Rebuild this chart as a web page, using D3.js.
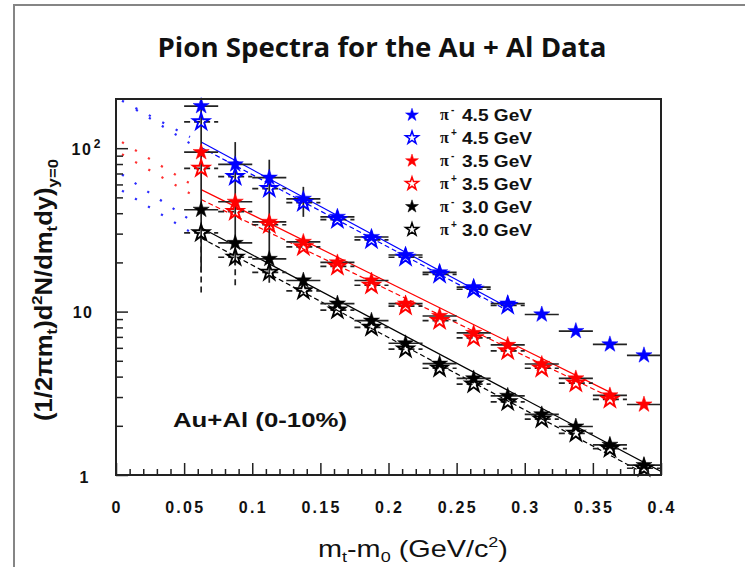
<!DOCTYPE html>
<html>
<head>
<meta charset="utf-8">
<script src="https://cdn.jsdelivr.net/npm/d3@7/dist/d3.min.js"></script>
<style>
  body { margin: 0; background: #fff; }
  svg { display: block; }
  text { font-family: "Liberation Sans", Arial, sans-serif; fill: #111; }
</style>
</head>
<body>
<svg width="745" height="567"></svg>
<script>
/*global d3*/
// bin centres in mt-m0 (GeV/c^2), bins are 0.025 wide
var xBins = [0.0625, 0.0875, 0.1125, 0.1375, 0.1625, 0.1875, 0.2125, 0.2375, 0.2625, 0.2875, 0.3125, 0.3375, 0.3625, 0.3875];
var xHalfBin = 0.0125;

var piMinus45 = [181, 79.6, 66, 49, 38, 28.6, 22.2, 17.4, 14.1, 11.2, 9.6, 7.6, 6.3, 5.4];
var piPlus45 = [145, 67, 56.6, 46.4, 36.5, 27.5, 21.5, 16.9, 13.7, 10.9];
var piMinus35 = [94.5, 47, 35.4, 26.7, 20, 15.5, 11.2, 9.4, 7.4, 6.25, 4.78, 3.9, 3.07, 2.7];
var piPlus35 = [75.2, 40.9, 34, 24.9, 18.9, 14.5, 10.8, 8.8, 6.9, 5.75, 4.5, 3.65, 2.9];
var piMinus30 = [42, 26.3, 21, 15.5, 11.2, 8.8, 6.4, 4.8, 3.9, 3.05, 2.35, 1.98, 1.53, 1.15];
var piPlus30 = [30.3, 21.5, 17.4, 13.4, 10.2, 8.0, 5.9, 4.5, 3.6, 2.8, 2.2, 1.8, 1.45, 1.1];

// the big vertical error bars: series, x, low, high
var vErrors = [
    ["piMinus30", 0.0625, 17.4, 195],
    ["piMinus30", 0.0875, 19.2, 109],
    ["piMinus30", 0.1125, 17, 85],
    ["piPlus30", 0.0625, 13.1, 30.3],
    ["piPlus30", 0.0875, 14.5, 21.5],
    ["piPlus30", 0.1125, 15, 17.4],
    ["piMinus45", 0.1375, 38, 58]
];

// exponential fits, [x, value] end points
var fitMinus45 = [[0.0625, 109], [0.285, 10.9]];
var fitPlus45 = [[0.0625, 101], [0.285, 10.4]];
var fitMinus35 = [[0.0625, 55.8], [0.368, 3.05]];
var fitPlus35 = [[0.0625, 48.5], [0.368, 2.85]];
var fitMinus30 = [[0.0625, 32.6], [0.4, 1.05]];
var fitPlus30 = [[0.0625, 28.2], [0.39, 1.0]];

// dotted extrapolations below the first bin
var extraBlueA = [[0.0044, 195], [0.0543, 117]];
var extraBlueB = [[0.0147, 172], [0.0543, 107]];
var extraRedA = [[0.0044, 109], [0.0543, 60.8]];
var extraRedB = [[0.0044, 91.8], [0.0543, 52.8]];
var extraBlueC = [[0.0044, 69], [0.0543, 36.5]];
var extraBlueD = [[0.0044, 55], [0.0543, 30.8]];

var legendCharge = ["-", "+", "-", "+", "-", "+"];
var legendEnergy = ["4.5 GeV", "4.5 GeV", "3.5 GeV", "3.5 GeV", "3.0 GeV", "3.0 GeV"];
var xTickLabels = ["0", "0.05", "0.1", "0.15", "0.2", "0.25", "0.3", "0.35", "0.4"];

var series = [
    {key: "piMinus45", values: piMinus45, fit: fitMinus45, color: "#0000ff", filled: true},
    {key: "piPlus45", values: piPlus45, fit: fitPlus45, color: "#0000ff", filled: false},
    {key: "piMinus35", values: piMinus35, fit: fitMinus35, color: "#ff0000", filled: true},
    {key: "piPlus35", values: piPlus35, fit: fitPlus35, color: "#ff0000", filled: false},
    {key: "piMinus30", values: piMinus30, fit: fitMinus30, color: "#000000", filled: true},
    {key: "piPlus30", values: piPlus30, fit: fitPlus30, color: "#000000", filled: false}
];
var extras = [
    {pts: extraBlueA, color: "#2a2aff"}, {pts: extraBlueB, color: "#2a2aff"},
    {pts: extraRedA, color: "#ff3030"}, {pts: extraRedB, color: "#ff3030"},
    {pts: extraBlueC, color: "#2a2aff"}, {pts: extraBlueD, color: "#2a2aff"}
];

var svg = d3.select("svg"),
    plotL = 116, plotR = 661, plotT = 99, plotB = 475;

var x = d3.scaleLinear().domain([0, 0.4]).range([plotL, plotR]),
    y = d3.scaleLog().domain([1, 200]).range([plotB, plotT]);

// slide border
svg.append("rect")
    .attr("x", 14).attr("y", 5)
    .attr("width", 800).attr("height", 700)
    .attr("fill", "none")
    .attr("stroke", "#858585")
    .attr("stroke-width", 2);

svg.append("text")
    .attr("x", 382).attr("y", 57)
    .attr("text-anchor", "middle")
    .attr("textLength", 449)
    .attr("lengthAdjust", "spacingAndGlyphs")
    .style("font-family", "'Open Sans', sans-serif")
    .style("font-weight", "700")
    .style("font-size", "26px")
    .text("Pion Spectra for the Au + Al Data");

svg.append("defs").append("clipPath").attr("id", "plotArea")
    .append("rect")
    .attr("x", plotL).attr("y", plotT)
    .attr("width", plotR - plotL).attr("height", plotB - plotT);

var plot = svg.append("g").attr("clip-path", "url(#plotArea)");

var line = d3.line()
    .x(function (d) { return x(d[0]); })
    .y(function (d) { return y(d[1]); });

// dotted extrapolations
plot.selectAll(".extra")
    .data(extras)
    .enter()
    .append("path")
    .attr("class", "extra")
    .attr("d", function (d) { return line(d.pts); })
    .attr("fill", "none")
    .attr("stroke", function (d) { return d.color; })
    .attr("stroke-width", 2.2)
    .attr("stroke-dasharray", "2.2,13");

// fit lines
plot.selectAll(".fit")
    .data(series)
    .enter()
    .append("path")
    .attr("class", "fit")
    .attr("d", function (d) { return line(d.fit); })
    .attr("fill", "none")
    .attr("stroke", function (d) { return d.color; })
    .attr("stroke-width", 1.2)
    .attr("stroke-dasharray", function (d) { return d.filled ? null : "5,3"; });

// all points flattened
var points = [];
series.forEach(function (s) {
    s.values.forEach(function (v, i) {
        points.push({x: xBins[i], v: v, s: s});
    });
});

// horizontal error bars (black, dashed for pi+)
plot.selectAll(".hbar")
    .data(points)
    .enter()
    .append("line")
    .attr("class", "hbar")
    .attr("x1", function (d) { return x(d.x - xHalfBin); })
    .attr("x2", function (d) { return x(d.x + xHalfBin); })
    .attr("y1", function (d) { return y(d.v); })
    .attr("y2", function (d) { return y(d.v); })
    .attr("stroke", "#222")
    .attr("stroke-width", 1.7)
    .attr("stroke-dasharray", function (d) { return d.s.filled ? null : "6,4"; });

var byKey = {};
series.forEach(function (s) { byKey[s.key] = s; });

plot.selectAll(".vbar")
    .data(vErrors)
    .enter()
    .append("line")
    .attr("class", "vbar")
    .attr("x1", function (d) { return x(d[1]); })
    .attr("x2", function (d) { return x(d[1]); })
    .attr("y1", function (d) { return y(d[2]); })
    .attr("y2", function (d) { return y(d[3]); })
    .attr("stroke", "#222")
    .attr("stroke-width", 1.7)
    .attr("stroke-dasharray", function (d) { return byKey[d[0]].filled ? null : "6,4"; });

var star = d3.symbol().type(d3.symbolStar);
function starPath(r) { return star.size(r * r / 0.8908130915)(); }

svg.append("g").selectAll("path")
    .data(points)
    .enter()
    .append("path")
    .attr("transform", function (d) { return "translate(" + x(d.x) + "," + y(d.v) + ")"; })
    .attr("d", starPath(8.5))
    .attr("fill", function (d) { return d.s.filled ? d.s.color : "none"; })
    .attr("stroke", function (d) { return d.s.color; })
    .attr("stroke-width", function (d) { return d.s.filled ? 0.5 : 1.9; });

// axes: ticks point into the frame
var xMajor = d3.range(0, 9).map(function (i) { return i * 0.05; });
var xMinor = d3.range(0, 41).map(function (i) { return i * 0.01; })
    .filter(function (v, i) { return i % 5 !== 0; });

svg.append("g")
    .attr("transform", "translate(0," + plotB + ")")
    .call(d3.axisTop(x).tickValues(xMajor).tickSize(12).tickFormat(""))
    .call(function (g) { g.select(".domain").remove(); });
svg.append("g")
    .attr("transform", "translate(0," + plotB + ")")
    .call(d3.axisTop(x).tickValues(xMinor).tickSize(6).tickFormat(""))
    .call(function (g) { g.select(".domain").remove(); });

var yMajor = [1, 10, 100];
var yMinor = y.ticks().filter(function (v) { return yMajor.indexOf(v) < 0 && v < 200; });

svg.append("g")
    .attr("transform", "translate(" + plotL + ",0)")
    .call(d3.axisRight(y).tickValues(yMajor).tickSize(12).tickFormat(""))
    .call(function (g) { g.select(".domain").remove(); });
svg.append("g")
    .attr("transform", "translate(" + plotL + ",0)")
    .call(d3.axisRight(y).tickValues(yMinor).tickSize(7).tickFormat(""))
    .call(function (g) { g.select(".domain").remove(); });

svg.selectAll(".tick line").attr("stroke", "#222").attr("stroke-width", 1.5);

// frame
svg.append("rect")
    .attr("x", plotL).attr("y", plotT)
    .attr("width", plotR - plotL).attr("height", plotB - plotT)
    .attr("fill", "none")
    .attr("stroke", "#222")
    .attr("stroke-width", 2);

// tick labels
svg.append("g").selectAll("text")
    .data(xMajor)
    .enter()
    .append("text")
    .attr("x", function (d) { return x(d) + 1.2; })
    .attr("y", 512.5)
    .attr("text-anchor", "middle")
    .style("font-size", "16px")
    .style("font-weight", "700")
    .style("letter-spacing", "2.3px")
    .text(function (d, i) { return xTickLabels[i]; });

var yLab = svg.append("g")
    .style("font-size", "16px")
    .style("font-weight", "700")
    .style("letter-spacing", "1.5px");
yLab.append("text").attr("x", 90).attr("y", y(1) + 7.5).attr("text-anchor", "end").text("1");
yLab.append("text").attr("x", 93.5).attr("y", y(10) + 6).attr("text-anchor", "end").text("10");
var hundred = yLab.append("text").attr("x", 102).attr("y", y(100) + 7).attr("text-anchor", "end");
hundred.append("tspan").text("10");
hundred.append("tspan").attr("dx", 1.5).attr("dy", -7).style("font-size", "12px").text("2");

// stretch a text node horizontally to a given width
function stretch(node, w, tx, ty, rot) {
    var bw = node.getBBox().width;
    d3.select(node).attr("transform",
        "translate(" + tx + "," + ty + ") rotate(" + rot + ") scale(" + (w / bw) + ",1)");
}

// x axis title
var xt = svg.append("text")
    .attr("x", 0).attr("y", 0)
    .style("font-size", "24px");
xt.append("tspan").text("m");
xt.append("tspan").attr("dy", 5).style("font-size", "15px").text("t");
xt.append("tspan").attr("dy", -5).text("-m");
xt.append("tspan").attr("dy", 5).style("font-size", "15px").text("0");
xt.append("tspan").attr("dy", -5).text(" (GeV/c");
xt.append("tspan").attr("dy", -10).style("font-size", "15px").text("2");
xt.append("tspan").attr("dy", 10).text(")");
stretch(xt.node(), 190, 318, 557, 0);

// y axis title
var yt = svg.append("text")
    .attr("x", 0).attr("y", 0)
    .attr("text-anchor", "middle")
    .style("font-size", "23px")
    .style("font-weight", "700");
yt.append("tspan").text("(1/2\u03c0m");
yt.append("tspan").attr("dy", 5).style("font-size", "15px").text("t");
yt.append("tspan").attr("dy", -5).text(")d");
yt.append("tspan").attr("dy", -10).style("font-size", "15px").text("2");
yt.append("tspan").attr("dy", 10).text("N/dm");
yt.append("tspan").attr("dy", 5).style("font-size", "15px").text("t");
yt.append("tspan").attr("dy", -5).text("dy)");
yt.append("tspan").attr("dy", 6).style("font-size", "15px").text("y=0");
stretch(yt.node(), 262, 52, 290, -90);

// collision label
svg.append("text")
    .attr("x", 173).attr("y", 427)
    .attr("textLength", 174)
    .attr("lengthAdjust", "spacingAndGlyphs")
    .style("font-size", "20px")
    .style("font-weight", "700")
    .text("Au+Al (0-10%)");

// legend
var legend = svg.append("g").selectAll("g")
    .data(series)
    .enter()
    .append("g")
    .attr("transform", function (d, i) { return "translate(0," + (115 + i * 22.9) + ")"; });

legend.append("path")
    .attr("transform", "translate(412,0)")
    .attr("d", starPath(6.8))
    .attr("fill", function (d) { return d.filled ? d.color : "none"; })
    .attr("stroke", function (d) { return d.color; })
    .attr("stroke-width", function (d) { return d.filled ? 0.5 : 1.5; });

legend.append("text")
    .attr("x", 440).attr("y", 5)
    .style("font-family", "'Liberation Serif', serif")
    .style("font-size", "16px")
    .style("font-weight", "700")
    .text("\u03c0");
legend.append("text")
    .attr("x", 451).attr("y", -2)
    .style("font-size", "10px")
    .style("font-weight", "700")
    .text(function (d, i) { return legendCharge[i]; });
legend.append("text")
    .attr("x", 462).attr("y", 6)
    .attr("textLength", 70)
    .attr("lengthAdjust", "spacingAndGlyphs")
    .style("font-size", "16px")
    .style("font-weight", "700")
    .text(function (d, i) { return legendEnergy[i]; });
</script>
</body>
</html>
